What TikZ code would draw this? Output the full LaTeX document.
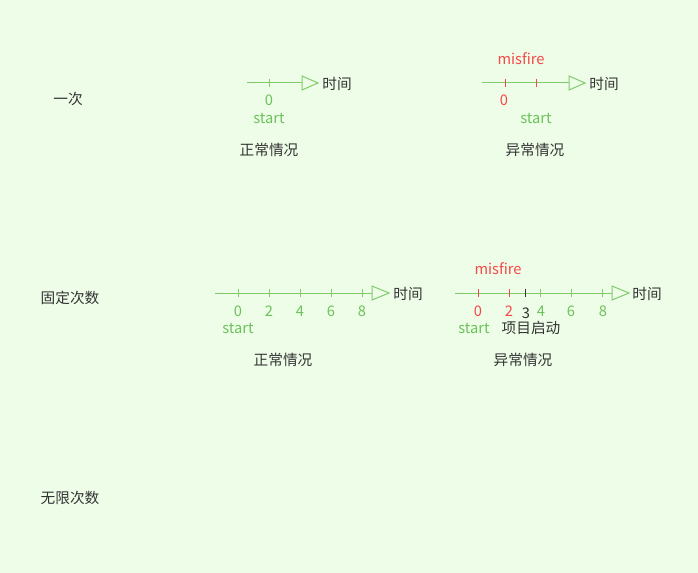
\documentclass[tikz,border=0pt]{standalone}
\usepackage{fontspec}
\setmainfont{Noto Sans CJK SC}
\begin{document}
\begin{tikzpicture}[x=0.75pt,y=-0.75pt,
  txt/.style={font=\fontsize{11pt}{13pt}\selectfont,inner sep=0pt,text=dark},
  gtxt/.style={txt,text=gtext},
  rtxt/.style={txt,text=rtext},
  axis/.style={draw=gline,line width=0.75pt},
  tri/.style={draw=gline,line width=0.75pt,fill=bg},
  gtick/.style={draw=gline,line width=0.75pt},
  rtick/.style={draw=rtext,line width=0.75pt},
  ktick/.style={draw=dark,line width=0.75pt}]
\definecolor{bg}{HTML}{EEFDE8}
\definecolor{gline}{HTML}{80CC6C}
\definecolor{gtext}{HTML}{6CC25A}
\definecolor{rtext}{HTML}{F54848}
\definecolor{dark}{HTML}{333333}
\fill[bg] (0,0) rectangle (698,573);
\useasboundingbox (0,0) rectangle (698,573);
% left labels
\node[txt] (l1) at (68,99) {一次};
\node[txt] (l2) at (70,298) {固定次数};
\node[txt] (l3) at (70,498) {无限次数};
% ---- diagram 1 normal
\coordinate (a1s) at (247,83);
\coordinate (a1e) at (302,83);
\draw[axis] (a1s) -- (a1e);
\draw[tri] (302,76) -- (318,83) -- (302,90) -- cycle;
\draw[gtick] (269,79) -- (269,87);
\node[txt] (t1) at (337,84) {时间};
\node[gtxt] (n10) at (269,100) {0};
\node[gtxt] (s1) at (269,118) {start};
\node[txt] (c1) at (269,150) {正常情况};
% ---- diagram 1 abnormal
\coordinate (b1s) at (482,83);
\coordinate (b1e) at (569,83);
\draw[axis] (b1s) -- (b1e);
\draw[tri] (569,76) -- (585,83) -- (569,90) -- cycle;
\draw[rtick] (505,79) -- (505,87);
\draw[rtick] (536,79) -- (536,87);
\node[txt] (t2) at (604,84) {时间};
\node[rtxt] (m1) at (521,59) {misfire};
\node[rtxt] (n20) at (504,100) {0};
\node[gtxt] (s2) at (536,118) {start};
\node[txt] (c2) at (535,150) {异常情况};
% ---- diagram 2 normal
\coordinate (a2s) at (215,293);
\coordinate (a2e) at (372,293);
\draw[axis] (a2s) -- (a2e);
\draw[tri] (372,286) -- (389,293) -- (372,300) -- cycle;
\foreach \x/\n in {238/0,269/2,300/4,331/6,362/8}{
  \draw[gtick] (\x,289) -- (\x,297);
  \node[gtxt] (na\n) at (\x,311) {\n};
}
\node[txt] (t3) at (408,294) {时间};
\node[gtxt] (s3) at (238,328) {start};
\node[txt] (c3) at (283,360) {正常情况};
% ---- diagram 2 abnormal
\coordinate (b2s) at (455,293);
\coordinate (b2e) at (612,293);
\draw[axis] (b2s) -- (b2e);
\draw[tri] (612,286) -- (629,293) -- (612,300) -- cycle;
\draw[rtick] (478,289) -- (478,297);
\draw[rtick] (509,289) -- (509,297);
\draw[ktick] (525,289) -- (525,297);
\foreach \x in {540,571,602}{\draw[gtick] (\x,289) -- (\x,297);}
\node[txt] (t4) at (647,294) {时间};
\node[rtxt] (m2) at (498,269) {misfire};
\node[rtxt] (nb0) at (478,311) {0};
\node[rtxt] (nb2) at (509,311) {2};
\node[txt] (nb3) at (526,313) {3};
\node[gtxt] (nb4) at (541,311) {4};
\node[gtxt] (nb6) at (571,311) {6};
\node[gtxt] (nb8) at (603,311) {8};
\node[gtxt] (s4) at (474,328) {start};
\node[txt] (p4) at (531,328) {项目启动};
\node[txt] (c4) at (523,360) {异常情况};
\end{tikzpicture}
\end{document}
